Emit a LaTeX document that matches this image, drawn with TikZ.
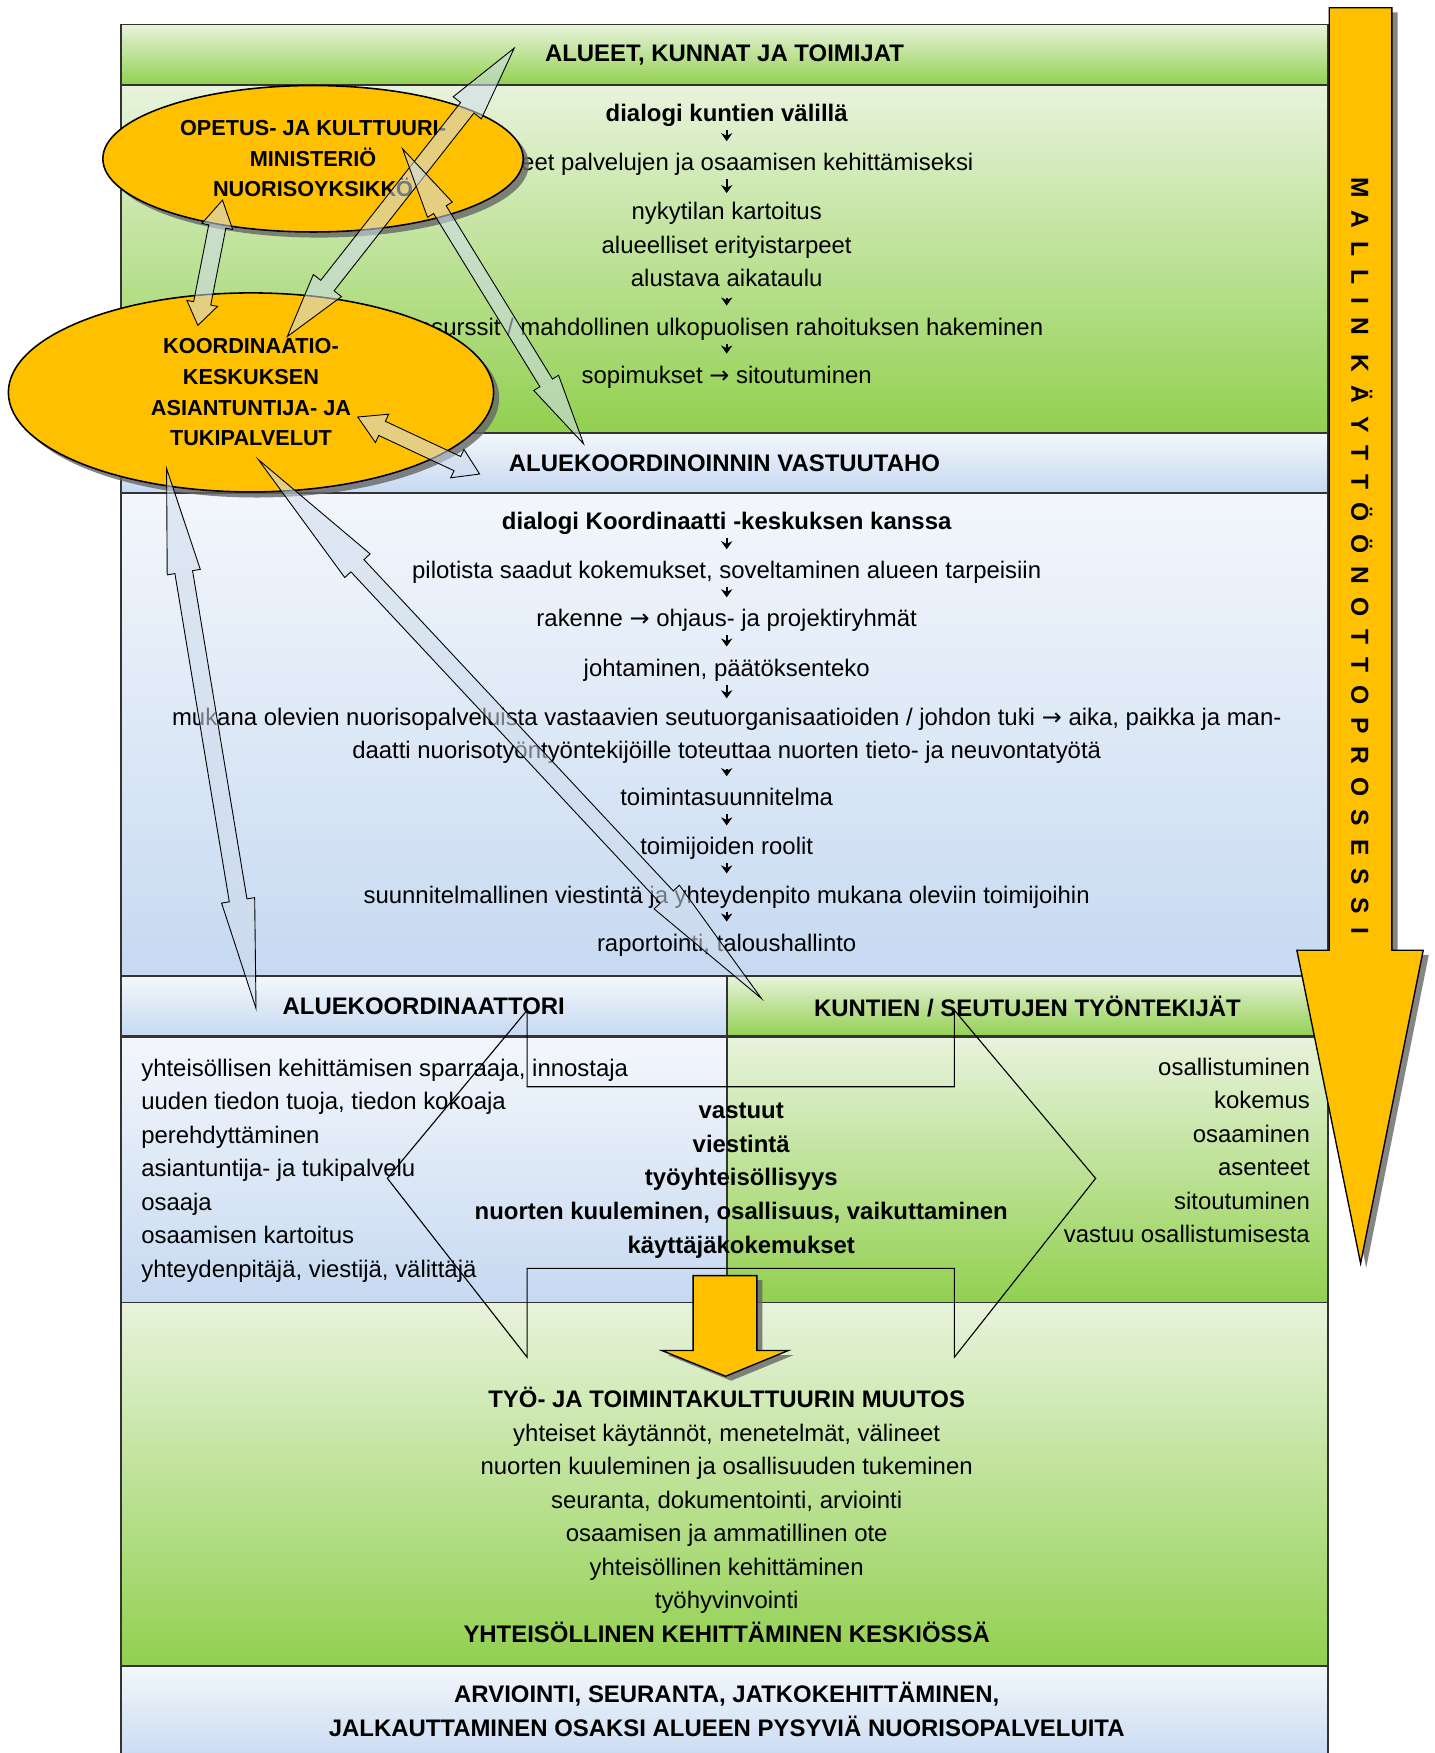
\documentclass[tikz,border=0pt]{standalone}
\usepackage{fontspec}
\setmainfont{Liberation Sans}
\newfontfamily\widefont{Liberation Sans}[LetterSpace=53]
\newfontfamily\arrowfont{DejaVu Sans}
\usepackage{xcolor}
\usepackage{tikz}
\usetikzlibrary{shapes.geometric, arrows.meta, calc, shadows}

\definecolor{palegreen}{HTML}{E8F3DC}
\definecolor{leafgreen}{HTML}{92D050}
\definecolor{paleblue}{HTML}{F3F7FC}
\definecolor{bandblue}{HTML}{C6D9F1}
\definecolor{okyellow}{HTML}{FFC000}
\definecolor{hatchblue}{HTML}{CFDCEC}

\newcommand{\bodyfont}{\fontsize{10.7}{15}\selectfont}
\newcommand{\ovalfont}{\fontsize{9.7}{13.7}\selectfont\bfseries}
\newcommand{\thento}{{\arrowfont →}}

\tikzstyle{greenband} = [rectangle, draw=black!80, line width=0.8pt, top color=palegreen, bottom color=leafgreen, inner sep=0pt, font=\bodyfont\bfseries]
\tikzstyle{blueband} = [rectangle, draw=black!80, line width=0.8pt, top color=paleblue, bottom color=bandblue, inner sep=0pt, font=\bodyfont\bfseries]
\tikzstyle{entry} = [inner sep=0pt, text height=9pt, text depth=1.3pt, font=\bodyfont]
\tikzstyle{block} = [inner sep=0pt, align=center, font=\bodyfont]
\tikzstyle{flow} = [-{Stealth[length=3.6pt,width=5pt]}, line width=0.9pt, shorten <=2.3pt, shorten >=4pt]
\tikzstyle{actor} = [ellipse, draw=black, line width=0.7pt, fill=okyellow, align=center, inner sep=0pt, font=\ovalfont, drop shadow={shadow xshift=2.5pt, shadow yshift=-2.5pt, fill=black!60, opacity=0.8}]
\tikzstyle{bigarrow} = [draw=black, line width=0.6pt, fill=okyellow, drop shadow={shadow xshift=2.5pt, shadow yshift=-2pt, fill=black!60, opacity=0.8}]
\tikzstyle{twoway} = [draw=black, line width=0.4pt, fill=hatchblue, fill opacity=0.55]
\tikzstyle{shareline} = [draw=black, line width=0.5pt]

% double block arrow: ends, head length at each end, head half width, shaft half width
\newcommand{\blockpair}[6]{%
  \draw [twoway] (#1) -- ($(#1)!#3!(#2)!#5!90:(#2)$) -- ($(#1)!#3!(#2)!#6!90:(#2)$)
    -- ($(#2)!#4!(#1)!#6!-90:(#1)$) -- ($(#2)!#4!(#1)!#5!-90:(#1)$) -- (#2)
    -- ($(#2)!#4!(#1)!#5!90:(#1)$) -- ($(#2)!#4!(#1)!#6!90:(#1)$)
    -- ($(#1)!#3!(#2)!#6!-90:(#2)$) -- ($(#1)!#3!(#2)!#5!-90:(#2)$) -- cycle;}

\begin{document}
\begin{tikzpicture}[x=0.5pt, y=-0.5pt]
\useasboundingbox (0,0) rectangle (1283,1568);

% bands
\node (areas) [greenband, minimum width=540pt, minimum height=27pt] at (648,49) {ALUEET, KUNNAT JA TOIMIJAT};
\node (areasBody) [greenband, minimum width=540pt, minimum height=155.5pt] at (648,231.5) {};
\node (resp) [blueband, minimum width=540pt, minimum height=27pt] at (648,414) {ALUEKOORDINOINNIN VASTUUTAHO};
\node (respBody) [blueband, minimum width=540pt, minimum height=216.5pt] at (648,657.5) {};
\node (coord) [blueband, minimum width=271pt, minimum height=27pt] at (379,900) {ALUEKOORDINAATTORI};
\node (work) [greenband, minimum width=269pt, minimum height=27pt] at (919,900) {KUNTIEN / SEUTUJEN TYÖNTEKIJÄT};
\node (coordBody) [blueband, minimum width=271pt, minimum height=118.5pt] at (379,1046.5) {};
\node (workBody) [greenband, minimum width=269pt, minimum height=118.5pt] at (919,1046.5) {};
\node (changeBody) [greenband, minimum width=540pt, minimum height=162.5pt] at (648,1327.5) {};
\node (evalBody) [blueband, minimum width=540pt, minimum height=45pt] at (648,1535) {};

% alueet
\node (talks) [entry, font=\bodyfont\bfseries] at (650,101) {dialogi kuntien välillä};
\node (needs) [entry] at (650,145) {tarpeet palvelujen ja osaamisen kehittämiseksi};
\node (survey) [block] at (650,219) {nykytilan kartoitus\\alueelliset erityistarpeet\\alustava aikataulu};
\node (funds) [entry] at (650,292) {resurssit / mahdollinen ulkopuolisen rahoituksen hakeminen};
\node (deals) [entry] at (650,335) {sopimukset \thento{} sitoutuminen};
\draw [flow] (talks) -- (needs);
\draw [flow] (needs) -- (survey);
\draw [flow, shorten <=4.6pt] (survey) -- (funds);
\draw [flow] (funds) -- (deals);

% vastuutaho
\node (talksB) [entry, font=\bodyfont\bfseries] at (650,466) {dialogi Koordinaatti -keskuksen kanssa};
\node (pilot) [entry] at (650,510) {pilotista saadut kokemukset, soveltaminen alueen tarpeisiin};
\node (struct) [entry] at (650,553) {rakenne \thento{} ohjaus- ja projektiryhmät};
\node (lead) [entry] at (650,597) {johtaminen, päätöksenteko};
\node (support) [block] at (650,658) {mukana olevien nuorisopalveluista vastaavien seutuorganisaatioiden / johdon tuki \thento{} aika, paikka ja man-\\daatti nuorisotyöntyöntekijöille toteuttaa nuorten tieto- ja neuvontatyötä};
\node (plan) [entry] at (650,713) {toimintasuunnitelma};
\node (roles) [entry] at (650,757) {toimijoiden roolit};
\node (comm) [entry] at (650,800) {suunnitelmallinen viestintä ja yhteydenpito mukana oleviin toimijoihin};
\node (report) [entry] at (650,843) {raportointi, taloushallinto};
\draw [flow] (talksB) -- (pilot);
\draw [flow] (pilot) -- (struct);
\draw [flow] (struct) -- (lead);
\draw [flow] (lead) -- (support);
\draw [flow] (support) -- (plan);
\draw [flow] (plan) -- (roles);
\draw [flow] (roles) -- (comm);
\draw [flow] (comm) -- (report);

% split bodies
\node (coordTasks) [block, align=left, anchor=west] at (126,1047) {yhteisöllisen kehittämisen sparraaja, innostaja\\uuden tiedon tuoja, tiedon kokoaja\\perehdyttäminen\\asiantuntija- ja tukipalvelu\\osaaja\\osaamisen kartoitus\\yhteydenpitäjä, viestijä, välittäjä};
\node (workTasks) [block, align=right, anchor=east] at (1172,1029) {osallistuminen\\kokemus\\osaaminen\\asenteet\\sitoutuminen\\vastuu osallistumisesta};

% muutos
\node (change) [block] at (650,1355) {{\bfseries TYÖ- JA TOIMINTAKULTTUURIN MUUTOS}\\yhteiset käytännöt, menetelmät, välineet\\nuorten kuuleminen ja osallisuuden tukeminen\\seuranta, dokumentointi, arviointi\\osaamisen ja ammatillinen ote\\yhteisöllinen kehittäminen\\työhyvinvointi\\{\bfseries YHTEISÖLLINEN KEHITTÄMINEN KESKIÖSSÄ}};
\node (evaluation) [block, font=\bodyfont\bfseries] at (650,1529) {ARVIOINTI, SEURANTA, JATKOKEHITTÄMINEN,\\JALKAUTTAMINEN OSAKSI ALUEEN PYSYVIÄ NUORISOPALVELUITA};

% yellow arrows
\draw [bigarrow] (1189,7) -- (1245,7) -- (1245,850) -- (1273,850) -- (1217,1130) -- (1160,850) -- (1189,850) -- cycle;
\node (process) [rotate=-90, inner sep=0pt, font=\widefont\bfseries\fontsize{11}{11}\selectfont] at (1218,497) {MALLIN KÄYTTÖÖNOTTOPROSESSI};
\draw [bigarrow] (620,1141) -- (677,1141) -- (677,1208) -- (705,1208) -- (649,1231) -- (592,1208) -- (620,1208) -- cycle;

% ellipses
\node (okm) [actor, minimum width=188pt, minimum height=65.5pt] at (280,142) {OPETUS- JA KULTTUURI-\\MINISTERIÖ\\NUORISOYKSIKKÖ};
\node (koord) [actor, minimum width=217pt, minimum height=89pt] at (224.5,351) {KOORDINAATIO-\\KESKUKSEN\\ASIANTUNTIJA- JA\\TUKIPALVELUT};

% shared arrow between the two roles
\draw [shareline] (471.5,903.6) -- (346.5,1054) -- (471.5,1214) -- (471.5,1134.5) -- (853.6,1134.5) -- (853.6,1214) -- (980,1054) -- (853.6,903.6) -- (853.6,972) -- (471.5,972) -- cycle;
\node (shared) [block, font=\bodyfont\bfseries] at (663,1056) {vastuut\\viestintä\\työyhteisöllisyys\\nuorten kuuleminen, osallisuus, vaikuttaminen\\käyttäjäkokemukset};

% block arrows
\coordinate (okmLow) at (199,179);
\coordinate (kkTop) at (177,291);
\coordinate (kkUpper) at (257,301);
\coordinate (areasTop) at (460,43);
\coordinate (okmRight) at (360,133);
\coordinate (respTop) at (522,397);
\coordinate (kkRight) at (320,373);
\coordinate (respLeft) at (429,424);
\coordinate (kkLow) at (149,419);
\coordinate (coordTop) at (229,902);
\coordinate (kkMid) at (231,411);
\coordinate (workTop) at (681,893);
\blockpair{okmLow}{kkTop}{12pt}{10pt}{7pt}{3.9pt}
\blockpair{kkUpper}{areasTop}{29pt}{34pt}{8pt}{3.8pt}
\blockpair{okmRight}{respTop}{32pt}{32pt}{6.5pt}{3.3pt}
\blockpair{kkRight}{respLeft}{12pt}{11pt}{7pt}{3.5pt}
\blockpair{kkLow}{coordTop}{47pt}{49pt}{7.5pt}{4pt}
\blockpair{kkMid}{workTop}{65pt}{62pt}{7.75pt}{4pt}
\end{tikzpicture}
\end{document}
